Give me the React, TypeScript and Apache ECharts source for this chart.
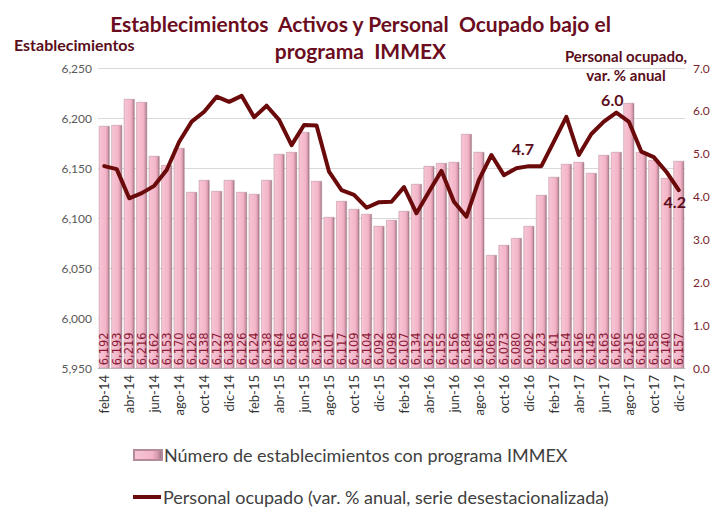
import React, { useEffect, useRef } from "react";
import * as echarts from "echarts";

const categories = [
  "feb-14","mar-14","abr-14","may-14","jun-14","jul-14","ago-14","sep-14","oct-14","nov-14","dic-14",
  "ene-15","feb-15","mar-15","abr-15","may-15","jun-15","jul-15","ago-15","sep-15","oct-15","nov-15","dic-15",
  "ene-16","feb-16","mar-16","abr-16","may-16","jun-16","jul-16","ago-16","sep-16","oct-16","nov-16","dic-16",
  "ene-17","feb-17","mar-17","abr-17","may-17","jun-17","jul-17","ago-17","sep-17","oct-17","nov-17","dic-17",
];

const establecimientos = [
  6192, 6193, 6219, 6216, 6162, 6153, 6170, 6126, 6138, 6127, 6138,
  6126, 6124, 6138, 6164, 6166, 6186, 6137, 6101, 6117, 6109, 6104, 6092,
  6098, 6107, 6134, 6152, 6155, 6156, 6184, 6166, 6063, 6073, 6080, 6092,
  6123, 6141, 6154, 6156, 6145, 6163, 6166, 6215, 6166, 6158, 6140, 6157,
];

const personal = [
  4.71, 4.64, 3.96, 4.08, 4.25, 4.62, 5.28, 5.75, 5.98, 6.33, 6.21,
  6.35, 5.85, 6.12, 5.79, 5.2, 5.67, 5.66, 4.58, 4.15, 4.04, 3.74, 3.87,
  3.88, 4.22, 3.61, 4.11, 4.6, 3.88, 3.53, 4.39, 4.97, 4.5, 4.66, 4.71,
  4.71, 5.28, 5.86, 4.97, 5.46, 5.75, 5.96, 5.75, 5.05, 4.92, 4.58, 4.15,
];

const labeledPoints: Record<number, { text: string; pos: string; dx: number; dy: number }> = {
  34: { text: "4.7", pos: "top", dx: -6, dy: -4 },
  41: { text: "6.0", pos: "top", dx: -4, dy: 0 },
  46: { text: "4.2", pos: "bottom", dx: -4, dy: -2 },
};

const leftTicks = { min: 5950, max: 6250, interval: 50 };
const rightTicks = { min: 0, max: 7, interval: 1 };

const MAROON = "#6A0A0A";
const FONT = "Lato, 'Noto Sans', sans-serif";
const LABEL_FONT = "'DejaVu Sans', Verdana, sans-serif";

export default function App() {
  const ref = useRef<HTMLDivElement>(null);
  useEffect(() => {
    document.body.style.margin = "0";
    if (!ref.current) return;
    const chart = echarts.init(ref.current, undefined, { renderer: "svg" });
    const barColor = new echarts.graphic.LinearGradient(0, 0, 1, 0, [
      { offset: 0, color: "#F7C6D5" },
      { offset: 0.65, color: "#F3B4C8" },
      { offset: 0.85, color: "#D699AC" },
      { offset: 1, color: "#8E6F79" },
    ]);
    chart.setOption({
      animation: false,
      textStyle: { fontFamily: FONT },
      title: {
        text: "Establecimientos  Activos y Personal  Ocupado bajo el\nprograma  IMMEX",
        left: "center",
        top: 5,
        textStyle: {
          fontSize: 21,
          fontWeight: "bold",
          color: "#6B0D1E",
          fontFamily: FONT,
          lineHeight: 27,
        },
      },
      graphic: [
        {
          type: "text",
          left: 14,
          top: 36,
          style: { text: "Establecimientos", fontSize: 16, fontWeight: "bold", fill: "#5A0D1A", fontFamily: FONT },
        },
        {
          type: "text",
          x: 626,
          y: 46,
          style: {
            text: "Personal ocupado,\nvar. % anual",
            fontSize: 15,
            fontWeight: "bold",
            fill: "#5A0D1A",
            fontFamily: FONT,
            align: "center",
            lineHeight: 19,
          },
        },
      ],
      legend: [
        {
          data: [{ name: "Número de establecimientos con programa IMMEX", icon: "rect" }],
          left: 128,
          top: 441,
          itemWidth: 28,
          itemHeight: 10,
          textStyle: { fontSize: 18, color: "#404040", fontFamily: FONT, padding: [0, 0, 0, -3] },
        },
        {
          data: [{ name: "Personal ocupado (var. % anual, serie desestacionalizada)", icon: "rect" }],
          left: 128,
          top: 483,
          itemWidth: 28,
          itemHeight: 4,
          textStyle: { fontSize: 18, color: "#404040", fontFamily: FONT, padding: [0, 0, 0, -3] },
        },
      ],
      grid: { left: 98, right: 36, top: 68, bottom: 140 },
      xAxis: {
        type: "category",
        data: categories,
        axisLine: { show: true, lineStyle: { color: "#BFBFBF" } },
        axisTick: { show: false },
        axisLabel: { rotate: 90, interval: 1, fontSize: 13, color: "#333333", fontFamily: FONT, margin: 7 },
      },
      yAxis: [
        {
          type: "value",
          min: leftTicks.min,
          max: leftTicks.max,
          interval: leftTicks.interval,
          axisLine: { show: false },
          axisTick: { show: false },
          splitLine: { lineStyle: { color: "#D9D9D9" } },
          axisLabel: {
            fontSize: 12,
            color: "#595959",
            fontFamily: FONT,
            margin: 6,
            formatter: (v: number) => v.toLocaleString("en-US"),
          },
        },
        {
          type: "value",
          min: rightTicks.min,
          max: rightTicks.max,
          interval: rightTicks.interval,
          axisLine: { show: false },
          axisTick: { show: false },
          splitLine: { show: false },
          axisLabel: {
            fontSize: 12,
            color: "#7B1F2E",
            fontFamily: FONT,
            margin: 8,
            formatter: (v: number) => v.toFixed(1),
          },
        },
      ],
      series: [
        {
          name: "Número de establecimientos con programa IMMEX",
          type: "bar",
          yAxisIndex: 0,
          data: establecimientos,
          barCategoryGap: "14%",
          itemStyle: { color: barColor, borderColor: "#B48C99", borderWidth: 0.5 },
          label: {
            show: true,
            position: "insideBottom",
            rotate: 90,
            align: "left",
            verticalAlign: "middle",
            distance: 3,
            fontSize: 11.5,
            color: "#8B1A36",
            fontFamily: LABEL_FONT,
            formatter: (p: any) => Number(p.value).toLocaleString("en-US"),
          },
          z: 1,
        },
        {
          name: "Personal ocupado (var. % anual, serie desestacionalizada)",
          type: "line",
          yAxisIndex: 1,
          data: personal.map((v, i) => {
            const lp = labeledPoints[i];
            if (!lp) return v;
            return {
              value: v,
              label: {
                show: true,
                position: lp.pos,
                offset: [lp.dx, lp.dy],
                formatter: lp.text,
                fontSize: 16,
                fontWeight: "bold",
                color: "#5A0D1A",
                fontFamily: FONT,
              },
            };
          }),
          symbol: "circle",
          symbolSize: 1,
          showSymbol: true,
          lineStyle: { color: MAROON, width: 4, join: "round", cap: "round" },
          itemStyle: { color: MAROON },
          z: 3,
        },
      ],
    });
    return () => chart.dispose();
  }, []);
  return <div ref={ref} style={{ width: 721, height: 508 }} />;
}
